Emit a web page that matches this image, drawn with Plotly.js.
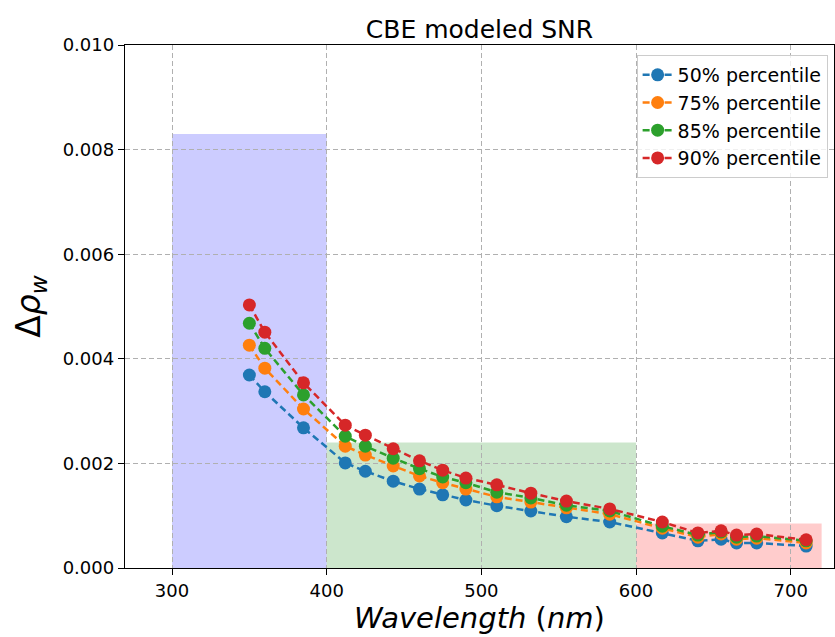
<!DOCTYPE html>
<html>
<head>
<meta charset="utf-8">
<script src="https://cdn.plot.ly/plotly-3.0.1.min.js"></script>
<style>html,body{margin:0;padding:0;background:#fff}#chart{width:835px;height:637px}</style>
</head>
<body>
<div id="chart"></div>
<script>
// Data
const wavelength = [350, 360, 385, 412, 425, 443, 460, 475, 490, 510, 532, 555, 583, 617, 640, 655, 665, 678, 710];
const p50 = [0.00369, 0.00337, 0.00268, 0.00201, 0.00185, 0.00166, 0.00151, 0.00140, 0.00130, 0.00119, 0.00109, 0.00098, 0.00088, 0.00067, 0.00052, 0.00055, 0.00048, 0.00048, 0.00042];
const p75 = [0.00426, 0.00382, 0.00304, 0.00233, 0.00216, 0.00195, 0.00176, 0.00163, 0.00151, 0.00136, 0.00126, 0.00115, 0.00103, 0.00076, 0.00059, 0.00065, 0.00055, 0.00057, 0.00048];
const p85 = [0.00468, 0.00420, 0.00331, 0.00252, 0.00233, 0.00210, 0.00190, 0.00174, 0.00163, 0.00145, 0.00134, 0.00120, 0.00109, 0.00080, 0.00063, 0.00069, 0.00059, 0.00061, 0.00052];
const p90 = [0.00503, 0.00451, 0.00354, 0.00273, 0.00254, 0.00228, 0.00205, 0.00187, 0.00172, 0.00159, 0.00143, 0.00128, 0.00113, 0.00088, 0.00067, 0.00071, 0.00063, 0.00065, 0.00054];
const seriesNames = ['50% percentile', '75% percentile', '85% percentile', '90% percentile'];
const seriesColors = ['#1f77b4', '#ff7f0e', '#2ca02c', '#d62728'];

// Requirement bands
const bandStart = [300, 400, 600];
const bandEnd = [400, 600, 720];
const bandTop = [0.0083, 0.0024, 0.00085];
const bandColors = ['rgba(0,0,255,0.2)', 'rgba(0,128,0,0.2)', 'rgba(255,0,0,0.2)'];

const xTicks = [300, 400, 500, 600, 700];
const yTicks = [0, 0.002, 0.004, 0.006, 0.008, 0.010];

const allSeries = [p50, p75, p85, p90];
const traces = allSeries.map((ys, i) => ({
  x: wavelength, y: ys, type: 'scatter', mode: 'lines+markers',
  name: seriesNames[i],
  line: {color: seriesColors[i], width: 2.5, dash: '7px,4px'},
  marker: {color: seriesColors[i], size: 13}
}));

const shapes = bandStart.map((s, i) => ({
  type: 'rect', xref: 'x', yref: 'y', x0: s, x1: bandEnd[i], y0: 0, y1: bandTop[i],
  fillcolor: bandColors[i], line: {width: 0}, layer: 'below'
}));

const font = {family: 'DejaVu Sans, sans-serif', color: '#000'};
const layout = {
  width: 835, height: 637,
  margin: {l: 125, r: 1, t: 45, b: 69},
  paper_bgcolor: '#fff', plot_bgcolor: 'rgba(0,0,0,0)',
  font: Object.assign({size: 18}, font),
  title: {text: 'CBE modeled SNR', font: Object.assign({size: 25}, font), x: 0.5, xref: 'paper', xanchor: 'center', y: 1, yref: 'paper', yanchor: 'bottom', pad: {b: 7}},
  showlegend: true,
  legend: {x: 0.991, xanchor: 'right', y: 0.981, yanchor: 'top', bgcolor: 'rgba(255,255,255,0.8)', bordercolor: '#cccccc', borderwidth: 1, font: Object.assign({size: 19}, font), tracegroupgap: 0},
  xaxis: {
    range: [269.6, 728], tickvals: xTicks, ticktext: xTicks.map(String),
    showgrid: true, gridcolor: '#b0b0b0', griddash: '5px,3px', gridwidth: 1,
    showline: true, linecolor: '#000', linewidth: 1.2, mirror: true,
    ticks: 'outside', ticklen: 6, tickcolor: '#000', zeroline: false,
    tickfont: Object.assign({size: 18}, font),
    title: {text: '<i>Wavelength</i> (<i>nm</i>)', font: Object.assign({size: 29}, font), standoff: 6}
  },
  yaxis: {
    range: [0, 0.010], tickvals: yTicks, ticktext: yTicks.map(v => v.toFixed(3)),
    showgrid: true, gridcolor: '#b0b0b0', griddash: '5px,3px', gridwidth: 1,
    showline: true, linecolor: '#000', linewidth: 1.2, mirror: true,
    ticks: 'outside', ticklen: 6, tickcolor: '#000', zeroline: false,
    tickfont: Object.assign({size: 18}, font),
    title: {text: 'Δ<i>ρ</i><sub><i>w</i></sub>', font: Object.assign({size: 33}, font), standoff: 12}
  },
  shapes: shapes
};

Plotly.newPlot('chart', traces, layout, {displayModeBar: false, staticPlot: true});
</script>
</body>
</html>
